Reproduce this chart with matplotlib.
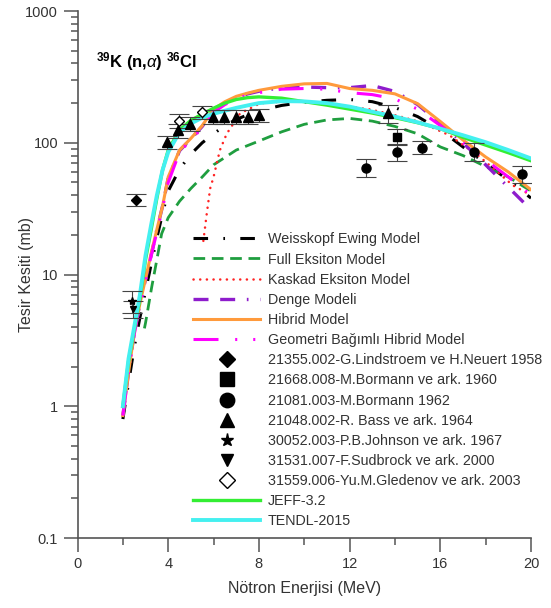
import matplotlib
matplotlib.use('Agg')
import matplotlib.pyplot as plt
from matplotlib.ticker import FixedLocator, FuncFormatter, MultipleLocator, LogLocator

plt.rcParams['font.family'] = ['Liberation Sans', 'DejaVu Sans']
plt.rcParams['mathtext.fontset'] = 'custom'
plt.rcParams['mathtext.rm'] = 'Liberation Sans:bold'
plt.rcParams['mathtext.it'] = 'Liberation Sans:italic'
plt.rcParams['mathtext.bf'] = 'Liberation Sans:bold'
plt.rcParams['lines.scale_dashes'] = False

# model curves (MeV, mb)
e_grid = [2.0, 2.25, 2.5, 2.75, 3.0, 3.25, 3.5, 3.75, 4.0, 4.5, 5.0, 5.5, 6.0, 6.5, 7.0,
          7.5, 8.0, 9.0, 10.0, 11.0, 12.0, 13.0, 14.0, 15.0, 16.0, 17.0, 18.0, 19.0, 20.0]
weisskopf = [0.8, 1.5, 2.8, 4.7, 7.5, 12, 19, 29, 43, 63, 82, 100, 117, 135, 150,
             163, 175, 192, 203, 210, 213, 205, 185, 158, 125, 93, 70, 52, 38]
hibrid = [0.85, 1.8, 3.6, 6.0, 9.3, 14.5, 22, 33, 55, 88, 108, 135, 180, 205, 225,
          238, 250, 268, 280, 282, 258, 250, 235, 198, 145, 105, 78, 60, 44]
geometri = [0.85, 1.8, 3.5, 5.8, 9.0, 14, 21, 32, 50, 85, 105, 130, 170, 195, 215,
            230, 240, 255, 258, 255, 240, 232, 215, 180, 135, 100, 74, 55, 40]
denge = [0.85, 1.8, 3.6, 6.0, 9.2, 14, 22, 33, 54, 87, 107, 133, 176, 200, 220,
         235, 246, 262, 265, 262, 262, 272, 245, 195, 140, 100, 68, 46, 31]
jeff = [1.0, 2.2, 3.8, 6.5, 13, 22, 38, 62, 88, 125, 148, 165, 183, 200, 213,
        220, 223, 218, 205, 193, 180, 168, 155, 142, 128, 110, 96, 84, 73]
tendl = [1.0, 2.3, 4.0, 7.0, 14, 24, 40, 62, 85, 120, 140, 155, 166, 175, 184,
         192, 200, 207, 206, 200, 188, 172, 158, 143, 128, 114, 101, 88, 76]

e_full = [2.95, 3.0, 3.27, 3.5, 3.71, 4.0, 4.5, 5.0, 5.5, 6.0, 7.0, 8.0, 9.0, 10.0,
          11.0, 12.0, 13.0, 14.0, 15.0, 16.0, 17.0, 18.0, 19.0, 20.0]
full_eksiton = [3.9, 4.3, 8.0, 13, 20.4, 27, 36, 45, 55, 68, 88, 103, 121, 138,
                149, 153, 146, 133, 117, 93, 80, 66, 55, 43]

e_kaskad = [5.55, 5.7, 5.85, 6.0, 6.28, 6.58, 7.17, 8.05, 9.0, 10.0, 11.0, 12.0,
            12.9, 14.0, 15.1, 16.4, 17.75, 19.2, 20.0]
kaskad = [18, 29, 45, 55, 88, 117, 167, 199, 205, 205, 198, 188,
          179, 162, 144, 114, 78, 47.5, 40]

# experimental data (MeV, mb, lower err, upper err)
lind_e, lind_s, lind_lo, lind_hi = [2.58], [36.5], [3.5], [4.0]
borm60_e, borm60_s, borm60_lo, borm60_hi = [14.1], [110], [12.5], [17]
borm62_e = [12.71, 14.08, 15.19, 17.5, 19.59]
borm62_s = [64.8, 85, 91.9, 85, 57.6]
borm62_lo = [10, 12, 10, 12, 8]
borm62_hi = [10, 12, 12, 14, 9]
bass_e = [3.96, 4.45, 4.96, 5.99, 6.47, 6.99, 7.5, 8.02, 13.71]
bass_s = [101, 124, 140, 157, 157, 157, 157, 162, 167]
bass_err = [12, 15, 17, 19, 19, 19, 19, 19, 25]
john_e, john_s, john_err = [2.39], [6.3], [1.2]
sud_e, sud_s, sud_err = [2.45], [5.5], [0.8]
gled_e = [4.49, 5.48]
gled_s = [147, 171]
gled_err = [18, 20]

fig = plt.figure(figsize=(5.51, 6.08), dpi=100)
ax = fig.add_axes([0.1407, 0.1151, 0.823, 0.8668])

w_line, = ax.plot(e_grid, weisskopf, color='black', lw=2.2, linestyle=(0, (10.5, 11, 1.2, 11)),
                  label='Weisskopf Ewing Model')
f_line, = ax.plot(e_full, full_eksiton, color='#1f9e3f', lw=2, linestyle=(0, (8.4, 4.8)),
                  label='Full Eksiton Model')
k_line, = ax.plot(e_kaskad, kaskad, color='#ff2222', lw=1.8, linestyle=(0, (0.1, 4.7)),
                  dash_capstyle='round', label='Kaskad Eksiton Model')
d_line, = ax.plot(e_grid, denge, color='#8e1ccc', lw=2.4, linestyle=(0, (10.8, 8.4, 10.8, 8.4, 1.2, 8.4)),
                  label='Denge Modeli')
h_line, = ax.plot(e_grid, hibrid, color='#ff9a3c', lw=2.2, label='Hibrid Model')
g_line, = ax.plot(e_grid, geometri, color='#ff00ff', lw=2.2, linestyle=(0, (18, 12, 1.5, 11.5, 1.5, 12)),
                  label='Geometri Bağımlı Hibrid Model')
j_line, = ax.plot(e_grid, jeff, color='#33ee33', lw=2.4, label='JEFF-3.2')
t_line, = ax.plot(e_grid, tendl, color='#44f0f0', lw=2.8, label='TENDL-2015')

eb = dict(fmt='none', ecolor='#444444', elinewidth=0.8, capsize=7, capthick=0.8, zorder=4)
ax.errorbar(lind_e, lind_s, yerr=[lind_lo, lind_hi], **eb)
ax.errorbar(borm60_e, borm60_s, yerr=[borm60_lo, borm60_hi], **eb)
ax.errorbar(borm62_e, borm62_s, yerr=[borm62_lo, borm62_hi], **eb)
ax.errorbar(bass_e, bass_s, yerr=bass_err, **eb)
ax.errorbar(john_e, john_s, yerr=john_err, **eb)
ax.errorbar(sud_e, sud_s, yerr=sud_err, **eb)
ax.errorbar(gled_e, gled_s, yerr=gled_err, **eb)

mk = dict(linestyle='none', color='black', zorder=5)
p1, = ax.plot(lind_e, lind_s, marker='D', ms=5, label='21355.002-G.Lindstroem ve H.Neuert 1958', **mk)
p2, = ax.plot(borm60_e, borm60_s, marker='s', ms=6, label='21668.008-M.Bormann ve ark. 1960', **mk)
p3, = ax.plot(borm62_e, borm62_s, marker='o', ms=6.5, label='21081.003-M.Bormann 1962', **mk)
p4, = ax.plot(bass_e, bass_s, marker='^', ms=6.5, label='21048.002-R. Bass ve ark. 1964', **mk)
p5, = ax.plot(john_e, john_s, marker='*', ms=6, label='30052.003-P.B.Johnson ve ark. 1967', **mk)
p6, = ax.plot(sud_e, sud_s, marker='v', ms=5, label='31531.007-F.Sudbrock ve ark. 2000', **mk)
p7, = ax.plot(gled_e, gled_s, marker='D', ms=5, markerfacecolor='white', markeredgewidth=1,
              label='31559.006-Yu.M.Gledenov ve ark. 2003', linestyle='none', color='black', zorder=5)

ax.set_yscale('log')
ax.set_xlim(0, 20)
ax.set_ylim(0.1, 1000)
ax.xaxis.set_major_locator(MultipleLocator(4))
ax.xaxis.set_minor_locator(MultipleLocator(2))
ax.yaxis.set_major_locator(FixedLocator([0.1, 1, 10, 100, 1000]))
ax.yaxis.set_minor_locator(LogLocator(base=10, subs=range(2, 10)))
ax.yaxis.set_major_formatter(FuncFormatter(lambda v, p: '%g' % v))

for s in ['top', 'right']:
    ax.spines[s].set_visible(False)
for s in ['left', 'bottom']:
    ax.spines[s].set_color('#555555')
    ax.spines[s].set_linewidth(1.2)
ax.tick_params(which='major', direction='out', length=10, width=1.1, color='#555555',
               labelsize=10.5, labelcolor='#333333', pad=4)
ax.tick_params(which='minor', direction='out', length=5, width=1.1, color='#555555')

ax.set_xlabel('Nötron Enerjisi (MeV)', fontsize=11.5, color='#333333', labelpad=7)
ax.set_ylabel('Tesir Kesiti (mb)', fontsize=11.5, color='#333333')
ax.yaxis.set_label_coords(-0.095, 0.5)

ax.text(0.8, 410, r'$^{39}$K (n,$\alpha$) $^{36}$Cl', fontsize=12, fontweight='bold',
        color='black', va='center', ha='left')

handles = [w_line, f_line, k_line, d_line, h_line, g_line, p1, p2, p3, p4, p5, p6, p7, j_line, t_line]
ax.legend(handles=handles, loc='upper left', bbox_to_anchor=(0.255, 0.58), frameon=False,
          fontsize=10.3, handlelength=4.7, handletextpad=0.5, labelspacing=0.43,
          borderpad=0, borderaxespad=0, numpoints=1, markerscale=1.6, labelcolor='#333333')

fig.savefig('out.png', dpi=100)
